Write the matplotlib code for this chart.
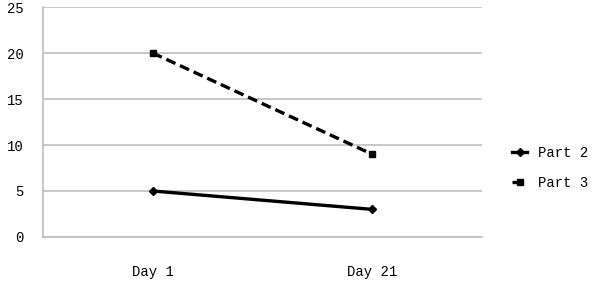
import matplotlib
matplotlib.use("Agg")
import matplotlib.pyplot as plt

days = ["Day 1", "Day 21"]
part2 = [5, 3]
part3 = [20, 9]
yticks = [0, 5, 10, 15, 20, 25]

plt.rcParams['font.family'] = ['Liberation Mono', 'DejaVu Sans Mono']

fig = plt.figure(figsize=(6.02, 2.94), dpi=100)
ax = fig.add_axes([0.0714, 0.194, 0.729, 0.782])

x = list(range(len(days)))
ax.plot(x, part2, color='black', lw=2.4, marker='D', ms=4, label='Part 2')
ax.plot(x, part3, color='black', lw=2.4, ls=(0, (3, 1.5)), marker='s', ms=4, label='Part 3')

ax.set_xlim(-0.5, 1.5)
ax.set_ylim(0, 25)
ax.set_yticks(yticks)
ax.set_xticks(x)
ax.set_xticklabels(days)
ax.yaxis.grid(True, color='#bcbcbc', lw=1.2)
ax.set_axisbelow(True)
for s in ['top', 'right']:
    ax.spines[s].set_visible(False)
for s in ['left', 'bottom']:
    ax.spines[s].set_color('#bcbcbc')
    ax.spines[s].set_linewidth(1.2)
ax.tick_params(length=0, labelsize=10)
ax.tick_params(axis='x', pad=20)
ax.tick_params(axis='y', pad=14)

ax.legend(loc='center left', bbox_to_anchor=(1.04, 0.30), frameon=False,
          fontsize=10, handlelength=1.1, handletextpad=0.8, labelspacing=1.1)

fig.savefig('out.png', dpi=100)
